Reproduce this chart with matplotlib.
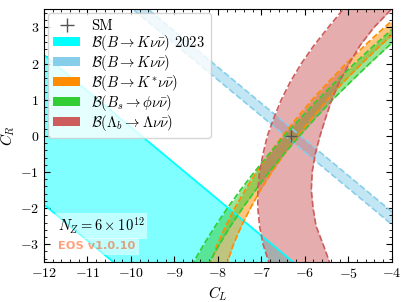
import matplotlib
matplotlib.use('Agg')
import matplotlib.pyplot as plt
from matplotlib.patches import Patch
from matplotlib.lines import Line2D
from matplotlib.ticker import MultipleLocator

plt.rcParams['font.family'] = 'serif'
plt.rcParams['font.serif'] = ['cmr10']
plt.rcParams['mathtext.fontset'] = 'cm'
plt.rcParams['axes.formatter.use_mathtext'] = True

# SM point
sm_cl, sm_cr = -6.32, 0.0

# straight bands (C_R read at C_L = -12.5 and -3.5)
cl_line = [-12.5, -3.5]
kvv23_upper = [2.74, -6.26]
kvv23_lower = [-1.40, -10.40]
kvv_upper = [6.40, -2.60]
kvv_lower = [6.05, -2.95]

# curved bands: C_L edges read at these C_R values
cr_grid = [-3.6, -3.0, -2.5, -2.0, -1.5, -1.0, -0.5, 0.0, 0.5, 1.0, 1.5, 2.0, 2.5, 3.0, 3.6]
kstar_left = [-8.20, -8.01, -7.82, -7.61, -7.37, -7.11, -6.82, -6.51, -6.18, -5.83, -5.45, -5.05, -4.62, -4.17, -3.59]
kstar_right = [-7.81, -7.64, -7.46, -7.25, -7.02, -6.76, -6.47, -6.16, -5.83, -5.48, -5.10, -4.69, -4.26, -3.80, -3.21]
phi_left = [-8.61, -8.32, -8.06, -7.78, -7.48, -7.16, -6.82, -6.47, -6.09, -5.70, -5.29, -4.86, -4.41, -3.94, -3.35]
phi_right = [-8.24, -7.96, -7.71, -7.43, -7.13, -6.82, -6.48, -6.12, -5.75, -5.36, -4.94, -4.51, -4.06, -3.58, -2.98]
lam_left = [-6.80, -6.96, -7.04, -7.08, -7.08, -7.04, -6.96, -6.86, -6.71, -6.54, -6.33, -6.08, -5.79, -5.46, -5.05]
lam_right = [-5.40, -5.58, -5.74, -5.81, -5.85, -5.83, -5.76, -5.65, -5.52, -5.38, -5.20, -4.98, -4.73, -4.41, -3.93]

labels = [r'$\mathcal{B}(B\to K\nu\bar{\nu})$ 2023',
          r'$\mathcal{B}(B\to K\nu\bar{\nu})$',
          r'$\mathcal{B}(B\to K^{*}\nu\bar{\nu})$',
          r'$\mathcal{B}(B_s\to \phi\nu\bar{\nu})$',
          r'$\mathcal{B}(\Lambda_b\to \Lambda\nu\bar{\nu})$']
colors = ['#00ffff', '#87ceeb', '#ff8c00', '#32cd32', '#cd5c5c']

fig = plt.figure(figsize=(4.07, 3.02), dpi=100)
ax = fig.add_axes([0.108, 0.1315, 0.8545, 0.8375])

# B -> K nu nu 2023 (solid edges)
ax.fill_between(cl_line, kvv23_lower, kvv23_upper, color=colors[0], alpha=0.5, lw=0)
ax.plot(cl_line, kvv23_lower, color=colors[0], lw=1.3)
ax.plot(cl_line, kvv23_upper, color=colors[0], lw=1.3)

# B -> K nu nu
ax.fill_between(cl_line, kvv_lower, kvv_upper, color=colors[1], alpha=0.5, lw=0)
ax.plot(cl_line, kvv_lower, color=colors[1], lw=1.2, ls='--')
ax.plot(cl_line, kvv_upper, color=colors[1], lw=1.2, ls='--')

# curved bands
for left, right, c in [(kstar_left, kstar_right, colors[2]),
                       (phi_left, phi_right, colors[3]),
                       (lam_left, lam_right, colors[4])]:
    ax.fill_betweenx(cr_grid, left, right, color=c, alpha=0.5, lw=0)
    ax.plot(left, cr_grid, color=c, lw=1.2, ls='--')
    ax.plot(right, cr_grid, color=c, lw=1.2, ls='--')

ax.plot(sm_cl, sm_cr, marker='+', color='#555555', ms=9, mew=1.0, ls='none')

ax.set_xlim(-12, -4)
ax.set_ylim(-3.5, 3.5)
ax.set_xlabel(r'$C_L$', fontsize=11, labelpad=2)
ax.set_ylabel(r'$C_R$', fontsize=11, labelpad=2)
ax.xaxis.set_minor_locator(MultipleLocator(0.2))
ax.yaxis.set_minor_locator(MultipleLocator(0.2))
ax.tick_params(which='both', direction='in', top=True, right=True, labelsize=10)
ax.tick_params(which='major', length=4)
ax.tick_params(which='minor', length=2)

handles = [Line2D([], [], marker='+', color='#555555', ms=10, mew=1.0, ls='none')]
handles += [Patch(facecolor=c, edgecolor='none') for c in colors]
ax.legend(handles, ['SM'] + labels, loc='upper left', fontsize=10.5, framealpha=0.8,
          labelspacing=0.0, handlelength=1.8, handleheight=0.6, borderaxespad=0.25,
          borderpad=0.4)

ax.text(0.04, 0.143, r'$N_Z = 6\times 10^{12}$', transform=ax.transAxes, fontsize=10.5,
        ha='left', va='center', bbox=dict(facecolor='white', alpha=0.5, edgecolor='none', pad=2))
ax.text(0.04, 0.063, 'EOS v1.0.10', transform=ax.transAxes, fontsize=8.2, family='DejaVu Sans',
        weight='semibold', color='orangered', alpha=0.5, ha='left', va='center',
        bbox=dict(facecolor='white', alpha=0.5, edgecolor='none', pad=2.5))

fig.savefig('out.png', dpi=100)
